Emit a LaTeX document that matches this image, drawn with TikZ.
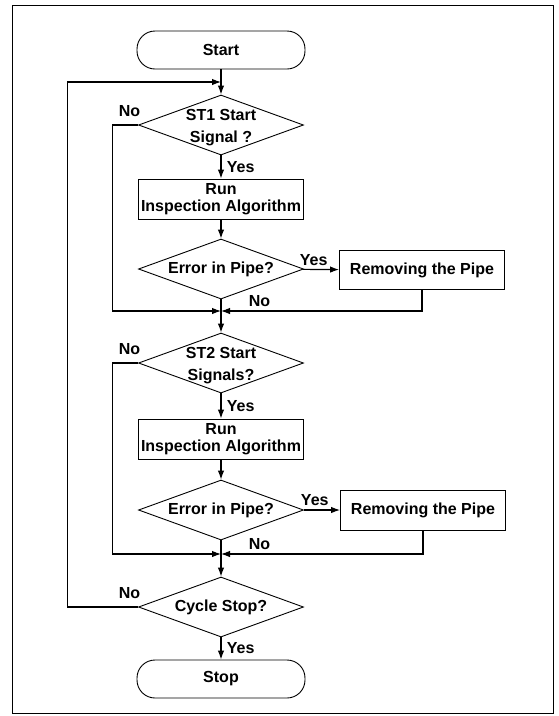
\documentclass[tikz,border=0pt]{standalone}
\usepackage{fontspec}
\setmainfont{Liberation Sans}
\usetikzlibrary{positioning, shapes.geometric, arrows.meta}

\tikzset{
  terminal/.style={draw, rounded corners=18pt, minimum width=168pt, minimum height=38pt, line width=0.9pt},
  process/.style={draw, align=center, minimum width=165pt, minimum height=40pt, inner sep=2pt, line width=0.9pt},
  decision/.style={draw, diamond, minimum width=165pt, minimum height=60pt, inner sep=0pt, line width=0.9pt},
  question/.style={align=center, font=\bfseries\fontsize{16}{22}\selectfont},
  nolabel/.style={anchor=south east, xshift=6pt, yshift=4pt},
}

\begin{document}
\begin{tikzpicture}[x=1pt, y=1pt, >={Latex[length=9pt,width=6.5pt]}, line width=1.1pt,
    font=\bfseries\fontsize{16}{17}\selectfont]
        \useasboundingbox (0,0) rectangle (558,-716);
        \draw[line width=0.8pt] (12,-5) rectangle (553,-713);

        % START
        \node[terminal] (start) at (221,-50) {Start};
        \coordinate (merge) at (221,-82);

        % ST1 -> inspection -> removing
        \node[decision, label={[question, yshift=-3pt]center:ST1 Start\\Signal ?}] (st1) at (221,-125) {};
        \node[process] (run1) at (221,-199) {Run\\Inspection Algorithm};
        \node[decision, label=center:Error in Pipe?] (err1) at (221,-269) {};
        \node[process, minimum height=39pt] (rem1) at (422,-270) {Removing the Pipe};
        \coordinate (join1) at (221,-311);

        % ST2 -> inspection -> removing
        \node[decision, label={[question, yshift=-3pt]center:ST2 Start\\Signals?}] (st2) at (221,-363) {};
        \node[process] (run2) at (221,-439) {Run\\Inspection Algorithm};
        \node[decision, label=center:Error in Pipe?] (err2) at (221,-510) {};
        \node[process] (rem2) at (423,-510) {Removing the Pipe};
        \coordinate (join2) at (221,-554);

        % STOP
        \node[decision, label=center:Cycle Stop?] (cycle) at (221,-607) {};
        \node[terminal] (stop) at (221,-679) {Stop};

        \path[->]
        (start) edge (st1)
        (st1) edge node[right, xshift=2pt] {Yes} (run1)
        (run1) edge (err1)
        (err1) edge node[above, pos=0.3] {Yes} (rem1)
        (err1) edge[-] node[pos=1, anchor=south west, xshift=24pt] {No} (join1)
        (join1) edge (st2)
        (st2) edge node[right, xshift=2pt] {Yes} (run2)
        (run2) edge (err2)
        (err2) edge node[above, pos=0.3] {Yes} (rem2)
        (err2) edge[-] node[pos=1, anchor=south west, xshift=24pt] {No} (join2)
        (join2) edge (cycle)
        (cycle) edge node[right, xshift=2pt] {Yes} (stop);

        % No branches and returns
        \draw[->] (st1.west) -- ++(-26,0) node[pos=0, nolabel] {No} |- (join1);
        \draw[->] (rem1.south) |- (join1);
        \draw[->] (st2.west) -- ++(-26,0) node[pos=0, nolabel] {No} |- (join2);
        \draw[->] (rem2.south) |- (join2);
        \draw[->] (cycle.west) -- ++(-71,0) node[pos=0, nolabel] {No} |- (merge);
    \end{tikzpicture}
\end{document}
